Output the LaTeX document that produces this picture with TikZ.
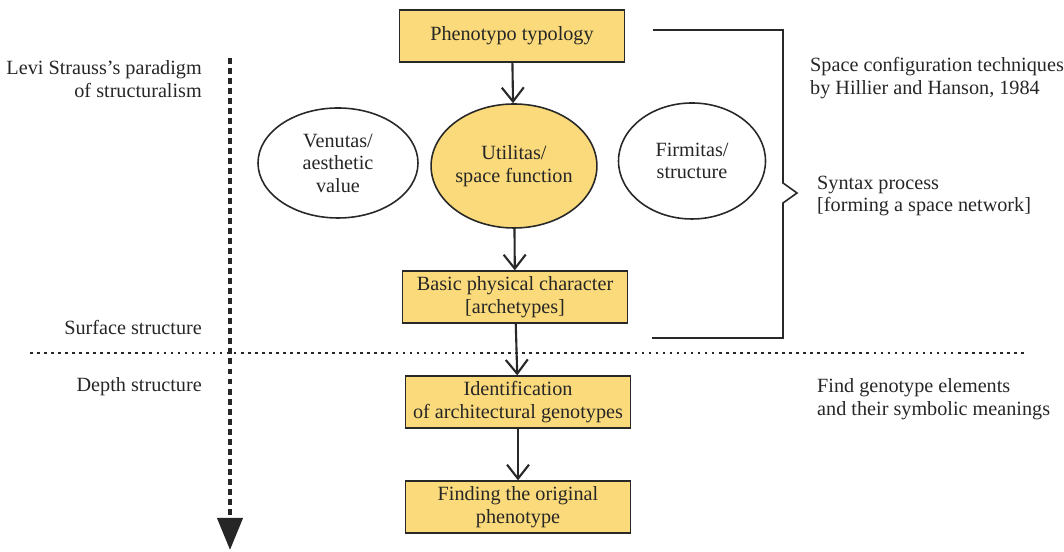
\documentclass[tikz,border=0pt]{standalone}
\usepackage{fontspec}
\setmainfont{Liberation Serif}
\usepackage{tikz}
\usetikzlibrary{shapes.geometric,arrows.meta}
\definecolor{boxyellow}{RGB}{250,218,122}
\definecolor{edgegray}{RGB}{40,40,40}

\begin{document}
\begin{tikzpicture}[
        every node/.style={font=\fontsize{11.5}{12.8}\selectfont, align=center, text=black!85},
        stepbox/.style={draw=edgegray, line width=1pt, fill=boxyellow, minimum width=4.5cm, minimum height=1.03cm, inner sep=1pt},
        oval/.style={draw=edgegray, line width=0.9pt, ellipse, inner sep=0pt},
        flow/.style={draw=edgegray, line width=1.2pt, -{Straight Barb[length=2.8mm, width=4.4mm]}}
    ]
        \useasboundingbox (0,0) rectangle (21.28,11.04);

        \node[stepbox] (pheno) at (10.24,10.32) {Phenotypo typology};
        \node[oval, fill=boxyellow, minimum width=3.08cm, minimum height=2.48cm] (util) at (10.28,7.72) {Utilitas/\\space function};
        \node[oval, minimum width=3.2cm, minimum height=2.2cm] (venus) at (6.76,7.78) {Venutas/\\aesthetic\\value};
        \node[oval, minimum width=2.94cm, minimum height=2.32cm] (firm) at (13.84,7.82) {Firmitas/\\structure};
        \node[stepbox] (basic) at (10.30,5.10) {Basic physical character\\{}[archetypes]};
        \node[stepbox] (ident) at (10.36,3.00) {Identification\\of architectural genotypes};
        \node[stepbox] (orig) at (10.36,0.90) {Finding the original\\phenotype};

        \draw[flow] (pheno) -- (util);
        \draw[flow] (util) -- (basic);
        \draw[flow] (basic) -- (ident);
        \draw[flow] (ident) -- (orig);

        % surface / depth divider
        \draw[edgegray, line width=0.6pt, dash pattern=on 1.5pt off 2.5pt] (0.6,3.98) -- (20.5,3.98);

        % structuralism axis
        \coordinate (axtop) at (4.6,9.88);
        \coordinate (axend) at (4.6,0.04);
        \draw[black!85, line width=2.3pt, dash pattern=on 3.4pt off 2.3pt, -{Triangle[length=6.4mm, width=5mm]}] (axtop) -- (axend);

        % bracket
        \coordinate (brtop) at (13.06,10.44);
        \coordinate (brbot) at (13.04,4.28);
        \draw[edgegray, line width=0.9pt] (brtop) -- (15.66,10.44) -- (15.66,7.38) -- (15.94,7.18) -- (15.66,6.98) -- (15.66,4.28) -- (brbot);

        \node[anchor=east, align=right] (levi) at (4.16,9.46) {Levi Strauss’s paradigm\\of structuralism};
        \node[anchor=east] (surf) at (4.16,4.50) {Surface structure};
        \node[anchor=east] (depth) at (4.16,3.30) {Depth structure};

        \node[anchor=west, align=left] (space) at (16.08,9.48) {Space configuration techniques\\by Hillier and Hanson, 1984};
        \node[anchor=west, align=left] (syntax) at (16.22,7.12) {Syntax process\\{}[forming a space network]};
        \node[anchor=west, align=left] (find) at (16.22,3.06) {Find genotype elements\\and their symbolic meanings};
    \end{tikzpicture}
\end{document}
